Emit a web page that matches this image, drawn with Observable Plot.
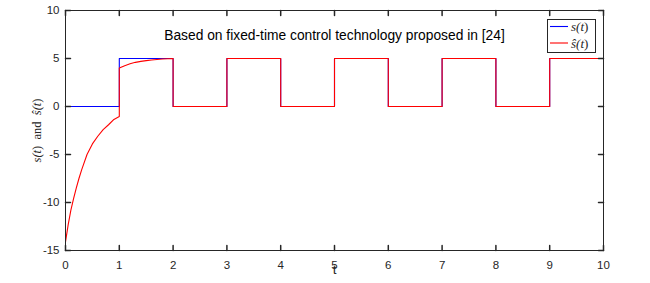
<!DOCTYPE html>
<html><head><meta charset="utf-8">
<script src="https://cdn.jsdelivr.net/npm/d3@7"></script>
<script src="https://cdn.jsdelivr.net/npm/@observablehq/plot@0.6"></script>
<style>
body{margin:0;background:#fff;}
#wrap{position:relative;width:650px;height:283px;}
#legend{position:absolute;left:0;top:0;pointer-events:none;}
</style>
</head><body><div id="wrap"></div>
<script>
const xTicks = [0,1,2,3,4,5,6,7,8,9,10];
const yTicks = [-15,-10,-5,0,5,10];
const sT = [0,1,2,3,4,5,6,7,8,9,10];
const sV = [0,5,0,5,0,5,0,5,0,5,5];
const hatT = [0,0.05,0.1,0.15,0.2,0.25,0.3,0.4,0.5,0.6,0.7,0.8,0.9,1.0,
              1.0,1.1,1.2,1.3,1.4,1.5,1.6,1.7,1.8,1.9,2.0,
              2.0,3,3,4,4,5,5,6,6,7,7,8,8,9,9,10];
const hatV = [-14.1,-12.3,-10.8,-9.6,-8.5,-7.5,-6.6,-5.0,-3.9,-3.1,-2.4,-1.9,-1.35,-1.05,
              4.0,4.25,4.45,4.6,4.7,4.78,4.85,4.9,4.94,4.97,5.0,
              0,0,5,5,0,0,5,5,0,0,5,5,0,0,5,5];
const titleText = "Based on fixed-time control technology proposed in [24]";
const xLabel = "t";
const yLabel = "s(t) and ŝ(t)";
const seriesNames = ["s(t)", "ŝ(t)"];
const seriesColors = ["#0000ff", "#ff0000"];

const sData = sT.map((t,i)=>({t, v: sV[i]}));
const hatData = hatT.map((t,i)=>({t, v: hatV[i]}));
const axisColor = "#262626";
const serif = "'Liberation Serif', 'DejaVu Serif', serif";

const plot = Plot.plot({
  width: 650, height: 283,
  marginLeft: 65, marginRight: 47, marginTop: 10, marginBottom: 33,
  style: {fontFamily: "'Liberation Sans', Arial, sans-serif", background: "#fff", color: axisColor},
  x: {domain: [0,10]},
  y: {domain: [-15,10]},
  marks: [
    Plot.line(sData, {x: "t", y: "v", curve: "step-after", stroke: seriesColors[0], strokeWidth: 1.1}),
    Plot.line(hatData, {x: "t", y: "v", stroke: seriesColors[1], strokeWidth: 1.1}),
    Plot.frame({stroke: axisColor, strokeWidth: 1}),
    Plot.vector(xTicks, {x: d=>d, y: -15, length: 5, rotate: 0, anchor: "start", r: 0, stroke: axisColor}),
    Plot.vector(xTicks, {x: d=>d, y: 10, length: 5, rotate: 180, anchor: "start", r: 0, stroke: axisColor}),
    Plot.vector(yTicks, {x: 0, y: d=>d, length: 5, rotate: 90, anchor: "start", r: 0, stroke: axisColor}),
    Plot.vector(yTicks, {x: 10, y: d=>d, length: 5, rotate: -90, anchor: "start", r: 0, stroke: axisColor}),
    Plot.axisX({ticks: xTicks, tickSize: 0, tickPadding: 10, fontSize: 11.5, fill: axisColor, label: null, tickFormat: d => String(d)}),
    Plot.axisY({ticks: yTicks, tickSize: 0, tickPadding: 6, fontSize: 11.5, fill: axisColor, label: null, tickFormat: d => String(d)}),
    Plot.text([titleText], {frameAnchor: "top", dy: 20, fontSize: 13.8, fill: "#000"}),
    Plot.text([xLabel], {frameAnchor: "bottom", dy: 23, fontSize: 13.5, fill: axisColor}),
    Plot.text([yLabel], {frameAnchor: "left", dx: -29, rotate: -90, textAnchor: "middle", fontSize: 12.5, fill: axisColor, fontFamily: serif})
  ]
});

// italicise the math parts of the y label
plot.querySelectorAll("text").forEach(el => {
  if (el.textContent === yLabel) {
    el.textContent = "";
    const parts = [["s(", true], ["t", true], [")", false], ["\u2002and\u2002", false], ["ŝ(", true], ["t", true], [")", false]];
    parts.forEach(([txt, it]) => {
      const ts = document.createElementNS("http://www.w3.org/2000/svg", "tspan");
      ts.textContent = txt;
      if (it) ts.setAttribute("font-style", "italic");
      el.appendChild(ts);
    });
  }
});

const wrap = document.getElementById("wrap");
wrap.appendChild(plot);

// legend overlay
const NS = "http://www.w3.org/2000/svg";
const lg = document.createElementNS(NS, "svg");
lg.setAttribute("id", "legend");
lg.setAttribute("width", 650);
lg.setAttribute("height", 283);
const box = document.createElementNS(NS, "rect");
box.setAttribute("x", 547.5); box.setAttribute("y", 19.5);
box.setAttribute("width", 48); box.setAttribute("height", 33);
box.setAttribute("fill", "#fff"); box.setAttribute("stroke", axisColor);
lg.appendChild(box);
seriesNames.forEach((name, i) => {
  const yy = 26.5 + i * 16.5;
  const ln = document.createElementNS(NS, "line");
  ln.setAttribute("x1", 550); ln.setAttribute("x2", 568);
  ln.setAttribute("y1", yy); ln.setAttribute("y2", yy);
  ln.setAttribute("stroke", seriesColors[i]); ln.setAttribute("stroke-width", 1.1);
  lg.appendChild(ln);
  const tx = document.createElementNS(NS, "text");
  tx.setAttribute("x", 571); tx.setAttribute("y", yy + 4.5);
  tx.setAttribute("font-family", serif);
  tx.setAttribute("font-size", 13);
  tx.setAttribute("fill", axisColor);
  const a = document.createElementNS(NS, "tspan");
  a.setAttribute("font-style", "italic");
  a.textContent = name.slice(0, 2);
  const b = document.createElementNS(NS, "tspan");
  b.setAttribute("font-style", "italic");
  b.textContent = name.slice(2, 3);
  const c = document.createElementNS(NS, "tspan");
  c.textContent = name.slice(3);
  tx.appendChild(a); tx.appendChild(b); tx.appendChild(c);
  lg.appendChild(tx);
});
wrap.appendChild(lg);
</script>
</body></html>
